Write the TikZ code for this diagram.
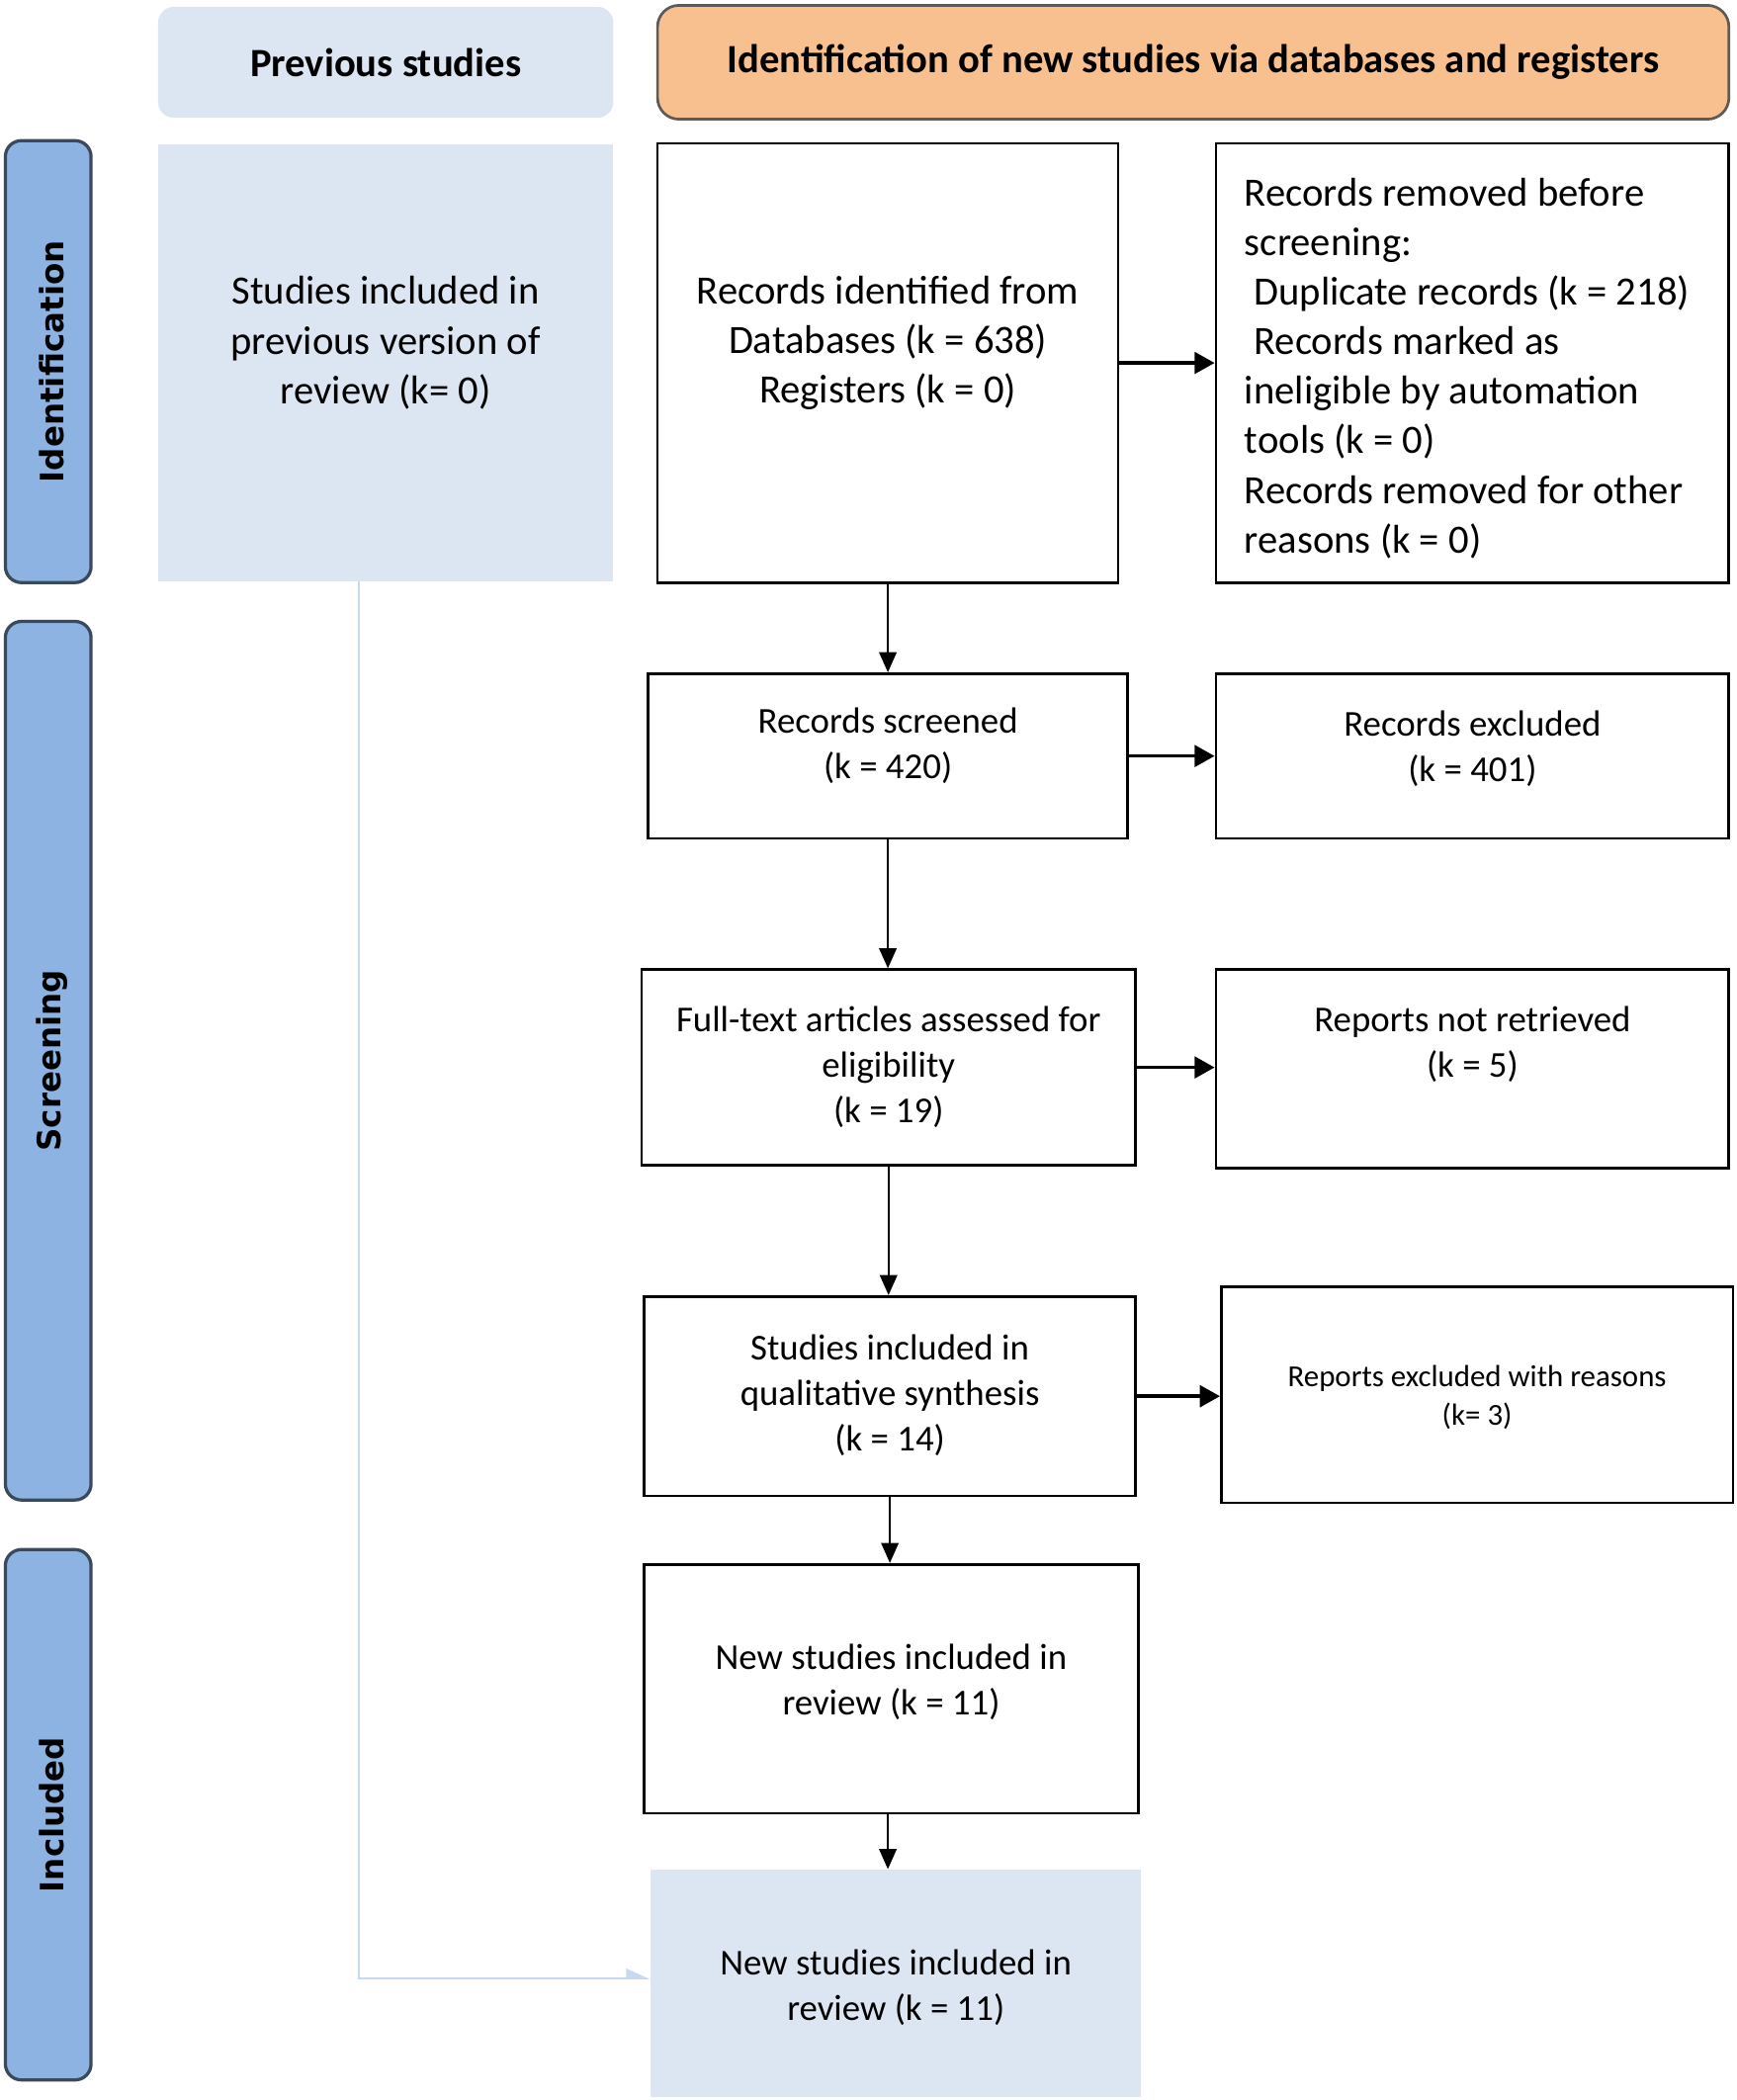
\documentclass[tikz,border=0pt]{standalone}
\usepackage{fontspec}
\setmainfont{Carlito}
\newfontfamily\sidefont{DejaVu Sans}
\usetikzlibrary{arrows.meta}
\definecolor{hdrblue}{HTML}{DCE6F2}
\definecolor{sidefill}{HTML}{8DB3E2}
\definecolor{sideline}{HTML}{3A4A5C}
\definecolor{orangefill}{HTML}{F9C08F}
\definecolor{orangeline}{HTML}{5F5A55}
\definecolor{linkblue}{HTML}{C6D9F1}
\begin{document}
\begin{tikzpicture}[x=0.5pt,y=-0.5pt,
  stepbox/.style={draw=black,line width=1pt,fill=white,inner sep=0pt},
  bluebox/.style={fill=hdrblue,inner sep=0pt},
  sidebar/.style={draw=sideline,line width=1.2pt,fill=sidefill,rounded corners=6pt,inner sep=0pt},
  hdrtext/.style={font=\fontsize{15}{18}\selectfont\bfseries},
  sidetext/.style={font=\sidefont\fontsize{12}{14}\selectfont\bfseries,rotate=90,inner sep=0pt},
  bodytext/.style={font=\fontsize{15}{18.5}\selectfont,align=center,inner sep=0pt},
  midtext/.style={font=\fontsize{13.6}{17}\selectfont,align=center,inner sep=0pt},
  smalltext/.style={font=\fontsize{11.4}{14.5}\selectfont,align=center,inner sep=0pt},
  flowv/.style={draw=black,line width=0.7pt,-{Triangle[length=7.5pt,width=6.5pt]}},
  flowh/.style={draw=black,line width=1.3pt,-{Triangle[length=7.5pt,width=8pt]}},
  linkline/.style={draw=linkblue,line width=0.9pt,-{Triangle[harpoon,length=8pt,width=7pt]}}
]
\useasboundingbox (0,0) rectangle (1297,1568);

% headers
\node[bluebox,rounded corners=6pt,minimum width=170pt,minimum height=41.5pt,hdrtext] (prevhdr) at (288,46.5) {Previous studies};
\node[draw=orangeline,line width=1pt,fill=orangefill,rounded corners=8pt,minimum width=400pt,minimum height=42.5pt,hdrtext] (idhdr) at (891,46.5) {Identification of new studies via databases and registers};

% side bars
\node[sidebar,minimum width=32pt,minimum height=165pt] (sideid) at (36,270) {};
\node[sidetext] (sideidt) at ([xshift=1.5pt]sideid.center) {Identification};
\node[sidebar,minimum width=32pt,minimum height=328pt] (sidescr) at (36,792) {};
\node[sidetext] (sidescrt) at ([xshift=1.5pt]sidescr.center) {Screening};
\node[sidebar,minimum width=32pt,minimum height=198pt] (sideinc) at (36,1355) {};
\node[sidetext] (sideinct) at ([xshift=1.5pt]sideinc.center) {Included};

% previous studies
\node[bluebox,minimum width=170pt,minimum height=163pt] (prev) at (288,271) {};
\node[bodytext] (prevt) at ([yshift=7.5pt]prev.center) {Studies included in\\previous version of\\review (k= 0)};

% identification
\node[stepbox,minimum width=172pt,minimum height=164pt] (recid) at (663,271) {};
\node[bodytext] (recidt) at ([yshift=7.5pt]recid.center) {Records identified from\\Databases (k = 638)\\Registers (k = 0)};

\node[stepbox,minimum width=191.5pt,minimum height=164pt] (removed) at (1099.5,271) {};
\node[bodytext,align=left,anchor=west] (removedt) at ([xshift=11pt,yshift=-2pt]removed.west) {Records removed before\\screening:\\\hspace*{3.5pt}Duplicate records (k = 218)\\\hspace*{3.5pt}Records marked as\\ineligible by automation\\tools (k = 0)\\Records removed for other\\reasons (k = 0)};

% screening
\node[stepbox,minimum width=179pt,minimum height=61.5pt] (screened) at (663,564.5) {};
\node[midtext] (screenedt) at ([yshift=3.75pt]screened.center) {Records screened\\(k = 420)};
\node[stepbox,minimum width=191.5pt,minimum height=61.5pt] (excluded) at (1099.5,564.5) {};
\node[midtext] (excludedt) at ([yshift=2.75pt]excluded.center) {Records excluded\\(k = 401)};

\node[stepbox,minimum width=184.5pt,minimum height=73pt] (fulltext) at (663.5,797) {};
\node[midtext] (fulltextt) at ([yshift=0.25pt]fulltext.center) {Full-text articles assessed for\\eligibility\\(k = 19)};
\node[stepbox,minimum width=191.5pt,minimum height=74pt] (notretr) at (1099.5,798) {};
\node[midtext] (notretrt) at ([yshift=9pt]notretr.center) {Reports not retrieved\\(k = 5)};

\node[stepbox,minimum width=183.5pt,minimum height=74.5pt] (qual) at (664.5,1042.5) {};
\node[midtext] (qualt) at ([yshift=0.5pt]qual.center) {Studies included in\\qualitative synthesis\\(k = 14)};
\node[stepbox,minimum width=191pt,minimum height=80.5pt] (repexcl) at (1103,1041.5) {};
\node[smalltext] (repexclt) at ([yshift=-1pt]repexcl.center) {Reports excluded with reasons\\(k= 3)};

% included
\node[stepbox,minimum width=184.5pt,minimum height=93pt] (newst) at (665.5,1261) {};
\node[midtext] (newstt) at ([yshift=2.5pt]newst.center) {New studies included in\\review (k = 11)};
\node[bluebox,minimum width=183pt,minimum height=85pt] (final) at (669,1481) {};
\node[midtext] (finalt) at ([yshift=-1.5pt]final.center) {New studies included in\\review (k = 11)};

% connectors
\draw[flowh] (recid.east) -- (removed.west);
\draw[flowh] (screened.east) -- (excluded.west);
\draw[flowh] (fulltext.east) -- (fulltext.east -| notretr.west);
\draw[flowh] (qual.east) -- (qual.east -| repexcl.west);

\draw[flowv] (recid.south) -- (screened.north);
\draw[flowv] (screened.south) -- (screened.south |- fulltext.north);
\draw[flowv] (fulltext.south) -- (fulltext.south |- qual.north);
\draw[flowv] (qual.south) -- (qual.south |- newst.north);
\draw[flowv] ([xshift=-1.25pt]newst.south) -- ([xshift=-1.25pt]newst.south |- final.north);

\coordinate (bend) at (268,1477);
\draw[linkline] ([xshift=-10pt]prev.south) -- (bend) -- (bend -| final.west);
\end{tikzpicture}
\end{document}
